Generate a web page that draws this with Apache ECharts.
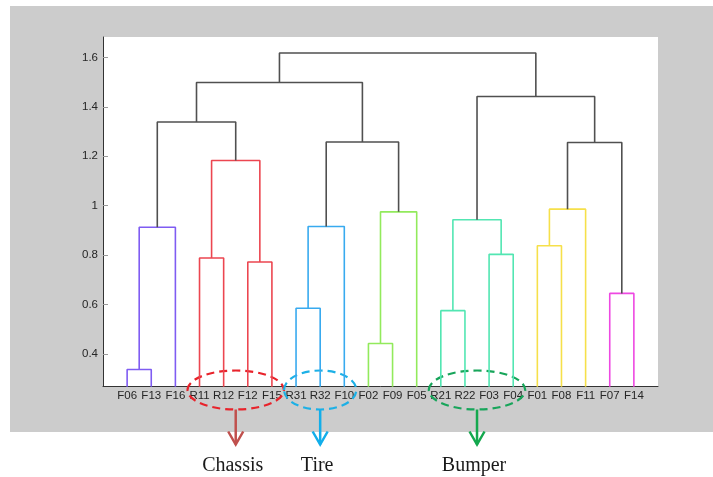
<!DOCTYPE html>
<html>
<head>
<meta charset="utf-8">
<title>Dendrogram</title>
<script src="https://cdn.jsdelivr.net/npm/echarts@6/dist/echarts.min.js"></script>
<style>
  html, body { margin: 0; padding: 0; background: #fff; }
  #chart { width: 713px; height: 477px; }
</style>
</head>
<body>
<div id="chart"></div>
<script>
  // leaf order along the x axis
  var leaves = ['F06', 'F13', 'F16', 'R11', 'R12', 'F12', 'F15', 'R31', 'R32', 'F10', 'F02',
    'F09', 'F05', 'R21', 'R22', 'F03', 'F04', 'F01', 'F08', 'F11', 'F07', 'F14'];
  // linkage: nodes 0..21 are leaves, merge k creates node 22 + k
  var leftChild  = [0, 22, 3, 5, 24, 23, 7, 28, 10, 30, 29, 27, 13, 15, 34, 17, 37, 20, 38, 36, 33];
  var rightChild = [1, 2, 4, 6, 25, 26, 8, 9, 11, 12, 31, 32, 14, 16, 35, 18, 19, 21, 39, 40, 41];
  var heights    = [0.337, 0.913, 0.788, 0.772, 1.183, 1.339, 0.585, 0.916, 0.442, 0.975, 1.258,
    1.499, 0.575, 0.803, 0.943, 0.838, 0.986, 0.645, 1.256, 1.442, 1.618];
  var linkGroup  = ['p', 'p', 'r', 'r', 'r', 'k', 'b', 'b', 'g', 'g', 'k',
    'k', 't', 't', 't', 'y', 'y', 'm', 'k', 'k', 'k'];
  var yTicks = [0.4, 0.6, 0.8, 1, 1.2, 1.4, 1.6];

  // highlighted groups below the axis
  var groupNames = ['Chassis', 'Tire', 'Bumper'];
  var groupFirst = ['R11', 'R31', 'R21'];
  var groupLast  = ['F15', 'F10', 'F04'];

  var palette = {
    p: '#7f5cf2', r: '#ec4650', b: '#38aaef', g: '#92ea5c',
    t: '#52e6b2', y: '#f6e04a', m: '#ee48e2', k: '#505050'
  };
  var ellipseColors = ['#e8232b', '#1cb0e6', '#17a55a'];
  var arrowColors = ['#c0504d', '#12aeea', '#14a84e'];

  var yMin = 0.27, yMax = 1.683;

  // x position / height of every node
  var nodeX = leaves.map(function (d, i) { return i + 1; });
  var nodeH = leaves.map(function () { return 0; });
  for (var k = 0; k < heights.length; k++) {
    nodeX.push((nodeX[leftChild[k]] + nodeX[rightChild[k]]) / 2);
    nodeH.push(heights[k]);
  }

  var series = [];
  for (var k = 0; k < heights.length; k++) {
    var a = leftChild[k], b = rightChild[k];
    series.push({
      type: 'line',
      silent: true,
      showSymbol: false,
      symbol: 'none',
      animation: false,
      lineStyle: { color: palette[linkGroup[k]], width: 1.6 },
      data: [[nodeX[a], nodeH[a]], [nodeX[a], heights[k]], [nodeX[b], heights[k]], [nodeX[b], nodeH[b]]]
    });
  }

  var groupData = groupNames.map(function (name, i) {
    var i1 = leaves.indexOf(groupFirst[i]) + 1, i2 = leaves.indexOf(groupLast[i]) + 1;
    return [(i1 + i2) / 2, yMin, i, i2 - i1];
  });

  series.push({
    type: 'custom',
    silent: true,
    animation: false,
    clip: false,
    data: groupData,
    renderItem: function (params, api) {
      var i = api.value(2);
      var p = api.coord([api.value(0), api.value(1)]);
      var unit = api.size([1, 0])[0];
      var cx = p[0], cy = p[1] + 4;
      var rx = api.value(3) * unit / 2 + 12, ry = 19.5;
      var top = cy + ry, end = top + 35;
      return {
        type: 'group',
        children: [
          {
            type: 'ellipse',
            shape: { cx: cx, cy: cy, rx: rx, ry: ry },
            style: { fill: 'none', stroke: ellipseColors[i], lineWidth: 2.2, lineDash: [8, 5] }
          },
          {
            type: 'line',
            shape: { x1: cx, y1: top, x2: cx, y2: end },
            style: { stroke: arrowColors[i], lineWidth: 2.5 }
          },
          {
            type: 'polyline',
            shape: { points: [[cx - 7.5, end - 13], [cx, end], [cx + 7.5, end - 13]] },
            style: { fill: 'none', stroke: arrowColors[i], lineWidth: 2.5 }
          },
          {
            type: 'text',
            style: {
              text: groupNames[i], x: cx - 3, y: end + 21,
              align: 'center', verticalAlign: 'middle',
              fill: '#1a1a1a', font: '20px "Liberation Serif", serif'
            }
          }
        ]
      };
    }
  });

  var chart = echarts.init(document.getElementById('chart'));
  chart.setOption({
    animation: false,
    graphic: [{
      type: 'rect', z: -1, silent: true,
      shape: { x: 10, y: 6, width: 703, height: 426 },
      style: { fill: '#cccccc' }
    }],
    grid: { left: 103, right: 55, top: 37, bottom: 91, show: true, backgroundColor: '#fff', borderWidth: 0 },
    xAxis: {
      type: 'value',
      min: 0,
      max: 23,
      interval: 1,
      splitLine: { show: false },
      axisTick: { show: false },
      axisLine: { lineStyle: { color: '#333', width: 1 } },
      axisLabel: {
        margin: 4,
        color: '#262626',
        fontSize: 11.5,
        fontFamily: '"Liberation Sans", Arial, sans-serif',
        formatter: function (v) { return leaves[v - 1] || ''; }
      }
    },
    yAxis: {
      type: 'value',
      min: yMin,
      max: yMax,
      splitLine: { show: false },
      axisLine: { show: true, lineStyle: { color: '#333', width: 1 } },
      axisTick: { show: true, inside: true, length: 5, customValues: yTicks, lineStyle: { color: '#999' } },
      axisLabel: {
        margin: 5,
        color: '#262626',
        fontSize: 11.5,
        fontFamily: '"Liberation Sans", Arial, sans-serif',
        customValues: yTicks,
        formatter: function (v) { return String(+(+v).toFixed(1)); }
      }
    },
    series: series
  });
</script>
</body>
</html>
